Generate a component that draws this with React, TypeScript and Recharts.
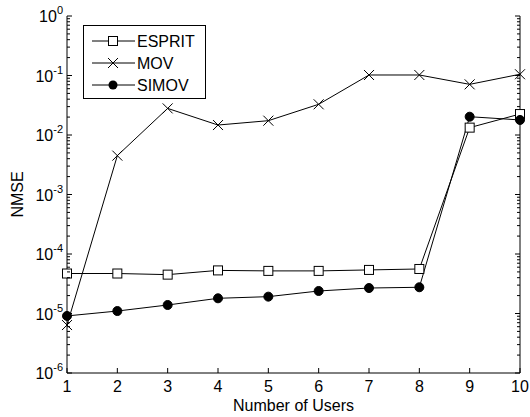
import { LineChart, Line, XAxis, YAxis, Legend, Label } from "recharts";

const users = [1, 2, 3, 4, 5, 6, 7, 8, 9, 10];
const espritNmse = [4.7e-5, 4.7e-5, 4.5e-5, 5.3e-5, 5.2e-5, 5.2e-5, 5.4e-5, 5.6e-5, 0.0133, 0.0225];
const movNmse = [6.4e-6, 4.5e-3, 0.028, 0.0147, 0.0174, 0.0328, 0.102, 0.102, 0.071, 0.105];
const simovNmse = [9.1e-6, 1.1e-5, 1.39e-5, 1.8e-5, 1.92e-5, 2.39e-5, 2.68e-5, 2.76e-5, 0.0203, 0.0179];
const decades = [-6, -5, -4, -3, -2, -1, 0];

const data = users.map((u, i) => ({
  users: u,
  esprit: espritNmse[i],
  mov: movNmse[i],
  simov: simovNmse[i],
}));

// majors plus the 2..9 minors of each decade
const yTicks: number[] = [];
decades.forEach((d) => {
  yTicks.push(Math.pow(10, d));
  if (d < 0) for (let m = 2; m <= 9; m++) yTicks.push(m * Math.pow(10, d));
});

const isMajor = (v: number) => Math.abs(Math.log10(v) - Math.round(Math.log10(v))) < 1e-9;
const FONT = "Arial, 'Liberation Sans', sans-serif";

const LeftTick = ({ x, y, payload }: any) => {
  const v = payload.value;
  const major = isMajor(v);
  return (
    <g>
      <line x1={x} y1={y} x2={x + (major ? 5 : 3)} y2={y} stroke="#000" strokeWidth={1} />
      {major && (
        <text x={x - 4} y={y + 6} textAnchor="end" fontFamily={FONT} fontSize={16} fill="#000">
          <tspan>10</tspan>
          <tspan dy={-8} fontSize={11}>{Math.round(Math.log10(v))}</tspan>
        </text>
      )}
    </g>
  );
};

const RightTick = ({ x, y, payload }: any) => {
  const major = isMajor(payload.value);
  return <line x1={x} y1={y} x2={x - (major ? 5 : 3)} y2={y} stroke="#000" strokeWidth={1} />;
};

const BottomTick = ({ x, y, payload }: any) => (
  <g>
    <line x1={x} y1={y} x2={x} y2={y - 5} stroke="#000" strokeWidth={1} />
    <text x={x} y={y + 19} textAnchor="middle" fontFamily={FONT} fontSize={16} fill="#000">
      {payload.value}
    </text>
  </g>
);

const TopTick = ({ x, y }: any) => <line x1={x} y1={y} x2={x} y2={y + 5} stroke="#000" strokeWidth={1} />;

const SquareDot = (p: any) =>
  p.cx == null ? null : (
    <rect key={`sq-${p.index}`} x={p.cx - 4.5} y={p.cy - 4.5} width={9} height={9} fill="#fff" stroke="#000" strokeWidth={1} />
  );

const CrossDot = (p: any) =>
  p.cx == null ? null : (
    <path key={`x-${p.index}`} d={`M${p.cx - 5},${p.cy - 5}L${p.cx + 5},${p.cy + 5}M${p.cx - 5},${p.cy + 5}L${p.cx + 5},${p.cy - 5}`} stroke="#000" strokeWidth={1} fill="none" />
  );

const CircleDot = (p: any) =>
  p.cx == null ? null : <circle key={`c-${p.index}`} cx={p.cx} cy={p.cy} r={4.5} fill="#000" stroke="#000" />;

const legendItems = [
  { name: "ESPRIT", marker: "square" },
  { name: "MOV", marker: "cross" },
  { name: "SIMOV", marker: "circle" },
];

const LegendBox = () => (
  <div style={{ width: 123, height: 74, border: "1px solid #000", background: "#fff", boxSizing: "border-box" }}>
    <svg width={121} height={72}>
      {legendItems.map((it, i) => {
        const cy = 15 + i * 22;
        const cx = 29;
        return (
          <g key={it.name}>
            <line x1={8} y1={cy} x2={51} y2={cy} stroke="#000" strokeWidth={1} />
            {it.marker === "square" && <rect x={cx - 4.5} y={cy - 4.5} width={9} height={9} fill="#fff" stroke="#000" />}
            {it.marker === "cross" && (
              <path d={`M${cx - 5},${cy - 5}L${cx + 5},${cy + 5}M${cx - 5},${cy + 5}L${cx + 5},${cy - 5}`} stroke="#000" />
            )}
            {it.marker === "circle" && <circle cx={cx} cy={cy} r={4.5} fill="#000" />}
            <text x={53} y={cy + 6} fontFamily={FONT} fontSize={16} fill="#000">
              {it.name}
            </text>
          </g>
        );
      })}
    </svg>
  </div>
);

export default function App() {
  return (
    <div style={{ position: "absolute", left: 0, top: 0, background: "#fff" }}>
      <LineChart width={530} height={417} data={data} margin={{ top: 16, right: 0, bottom: 0, left: 0 }}>
        <XAxis
          dataKey="users"
          type="number"
          domain={[1, 10]}
          ticks={users}
          height={44}
          tickSize={0}
          tickMargin={0}
          tickLine={false}
          axisLine={{ stroke: "#000" }}
          tick={<BottomTick />}
          interval={0}
        >
          <Label
            content={({ viewBox }: any) => (
              <text x={viewBox.x + viewBox.width / 2} y={viewBox.y + 38} textAnchor="middle" fontFamily={FONT} fontSize={16} fill="#000">
                Number of Users
              </text>
            )}
          />
        </XAxis>
        <XAxis
          xAxisId="top"
          orientation="top"
          dataKey="users"
          type="number"
          domain={[1, 10]}
          ticks={users}
          height={0}
          tickSize={0}
          tickMargin={0}
          tickLine={false}
          axisLine={{ stroke: "#000" }}
          tick={<TopTick />}
          interval={0}
        />
        <YAxis
          scale="log"
          type="number"
          domain={[1e-6, 1]}
          ticks={yTicks}
          width={67}
          tickSize={0}
          tickMargin={0}
          tickLine={false}
          axisLine={{ stroke: "#000" }}
          tick={<LeftTick />}
          interval={0}
          allowDataOverflow
        >
          <Label
            content={({ viewBox }: any) => {
              const cx = 17;
              const cy = viewBox.y + viewBox.height / 2;
              return (
                <text x={cx} y={cy} transform={`rotate(-90 ${cx} ${cy})`} textAnchor="middle" dominantBaseline="central" fontFamily={FONT} fontSize={16} fill="#000">
                  NMSE
                </text>
              );
            }}
          />
        </YAxis>
        <YAxis
          yAxisId="right"
          orientation="right"
          scale="log"
          type="number"
          domain={[1e-6, 1]}
          ticks={yTicks}
          width={10}
          tickSize={0}
          tickMargin={0}
          tickLine={false}
          axisLine={{ stroke: "#000" }}
          tick={<RightTick />}
          interval={0}
          allowDataOverflow
        />
        <Legend
          layout="vertical"
          align="center"
          verticalAlign="middle"
          wrapperStyle={{ left: 83, top: 25, width: 123 }}
          content={() => <LegendBox />}
        />
        <Line type="linear" dataKey="esprit" name="ESPRIT" stroke="#000" strokeWidth={1} dot={SquareDot} isAnimationActive={false} />
        <Line type="linear" dataKey="mov" name="MOV" stroke="#000" strokeWidth={1} dot={CrossDot} isAnimationActive={false} />
        <Line type="linear" dataKey="simov" name="SIMOV" stroke="#000" strokeWidth={1} dot={CircleDot} isAnimationActive={false} />
      </LineChart>
    </div>
  );
}
